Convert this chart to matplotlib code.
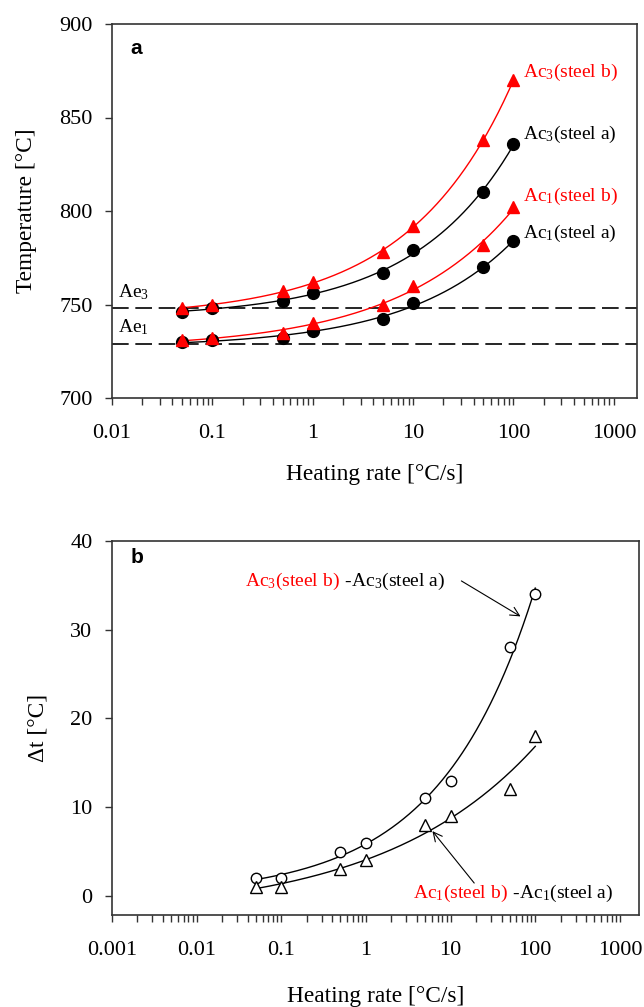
import numpy as np
import matplotlib
matplotlib.use("Agg")
import matplotlib.pyplot as plt

plt.rcParams['font.family'] = ['Liberation Serif', 'DejaVu Serif']
plt.rcParams['mathtext.default'] = 'regular'

# ---------------- data ----------------
rates = [0.05, 0.1, 0.5, 1, 5, 10, 50, 100]
ac3_steel_a = [746, 748, 752, 756, 767, 779, 810, 836]
ac3_steel_b = [748, 750, 757, 762, 778, 792, 838, 870]
ac1_steel_a = [730, 731, 732, 736, 742, 751, 770, 784]
ac1_steel_b = [731, 732, 735, 740, 750, 760, 782, 802]
ae3 = 748
ae1 = 729

dt_ac3 = [2, 2, 5, 6, 11, 13, 28, 34]
dt_ac1 = [1, 1, 3, 4, 8, 9, 12, 18]

ticks_a = [0.01, 0.1, 1, 10, 100, 1000]
ticklabels_a = ['0.01', '0.1', '1', '10', '100', '1000']
ticks_b = [0.001, 0.01, 0.1, 1, 10, 100, 1000]
ticklabels_b = ['0.001', '0.01', '0.1', '1', '10', '100', '1000']


def powfit(x, y):
    """least-squares fit y = a + b*x**c (grid search on c)"""
    x = np.asarray(x, float)
    y = np.asarray(y, float)
    best = None
    for c in np.linspace(0.02, 1.5, 1481):
        A = np.column_stack([np.ones_like(x), x ** c])
        coef, *_ = np.linalg.lstsq(A, y, rcond=None)
        sse = np.sum((A @ coef - y) ** 2)
        if best is None or sse < best[0]:
            best = (sse, coef[0], coef[1], c)
    _, a, b, c = best
    return lambda t: a + b * np.asarray(t) ** c


xs = np.logspace(np.log10(rates[0]), np.log10(rates[-1]), 300)

W, H = 644, 1007
fig = plt.figure(figsize=(W / 100, H / 100), dpi=100)
ax1 = fig.add_axes([112 / W, 1 - 398 / H, 525 / W, 374 / H])
ax2 = fig.add_axes([112 / W, 1 - 915 / H, 527 / W, 374 / H])

FS = 16
LS = 16.8
TS = 14

# ---------------- panel a ----------------
for ys, col, mk, ms in [(ac3_steel_a, 'black', 'o', 8.5),
                        (ac1_steel_a, 'black', 'o', 8.5),
                        (ac3_steel_b, 'red', '^', 8.5),
                        (ac1_steel_b, 'red', '^', 8.5)]:
    f = powfit(rates, ys)
    ax1.plot(xs, f(xs), color=col, lw=1.0, zorder=2)
    ax1.plot(rates, ys, ls='none', marker=mk, color=col, ms=ms, zorder=3)

ax1.axhline(ae3, color='black', lw=1.2, ls=(0, (10, 4)), zorder=1)
ax1.axhline(ae1, color='black', lw=1.2, ls=(0, (10, 4)), zorder=1)

ax1.set_xscale('log')
ax1.set_xlim(0.01, 1700)
ax1.set_ylim(700, 900)
ax1.set_yticks([700, 750, 800, 850, 900])
ax1.set_xticks(ticks_a)
ax1.set_xticklabels(ticklabels_a)
ax1.set_xlabel('Heating rate [°C/s]', fontsize=LS, labelpad=15)
ax1.set_ylabel('Temperature [°C]', fontsize=LS, labelpad=16)

lab_x = 125
ax1.text(lab_x, 874, 'Ac$_3$(steel b)', color='red', fontsize=TS, va='center', ha='left')
ax1.text(lab_x, 841, 'Ac$_3$(steel a)', color='black', fontsize=TS, va='center', ha='left')
ax1.text(lab_x, 808, 'Ac$_1$(steel b)', color='red', fontsize=TS, va='center', ha='left')
ax1.text(lab_x, 788, 'Ac$_1$(steel a)', color='black', fontsize=TS, va='center', ha='left')
ax1.text(0.0115, 751.5, 'Ae$_3$', fontsize=TS, va='bottom', ha='left')
ax1.text(0.0115, 732.5, 'Ae$_1$', fontsize=TS, va='bottom', ha='left')
ax1.text(0.035, 0.935, 'a', transform=ax1.transAxes, fontsize=15, fontweight='bold',
         family='Liberation Sans', va='center', ha='left')

# ---------------- panel b ----------------
f3 = powfit(rates, dt_ac3)
f1 = powfit(rates, dt_ac1)
ax2.plot(xs, f3(xs), color='black', lw=1.0)
ax2.plot(xs, f1(xs), color='black', lw=1.0)
ax2.plot(rates, dt_ac3, ls='none', marker='o', mfc='white', mec='black', mew=1.0, ms=7.5)
ax2.plot(rates, dt_ac1, ls='none', marker='^', mfc='white', mec='black', mew=1.0, ms=8)

ax2.set_xscale('log')
ax2.set_xlim(0.001, 1680)
ax2.set_ylim(-2.15, 40)
ax2.set_yticks([0, 10, 20, 30, 40])
ax2.set_xticks(ticks_b)
ax2.set_xticklabels(ticklabels_b)
ax2.set_xlabel('Heating rate [°C/s]', fontsize=LS, labelpad=19)
ax2.set_ylabel('Δt [°C]', fontsize=LS, labelpad=16)
ax2.text(0.035, 0.955, 'b', transform=ax2.transAxes, fontsize=15, fontweight='bold',
         family='Liberation Sans', va='center', ha='left')

t3 = ax2.text(0.037, 35.4, 'Ac$_3$(steel b)', color='red', fontsize=TS, va='center', ha='left')
ax2.annotate(' -Ac$_3$(steel a)', xy=(1, 0), xycoords=t3, va='bottom', ha='left',
             fontsize=TS, color='black')
t1 = ax2.text(3.6, 0.3, 'Ac$_1$(steel b)', color='red', fontsize=TS, va='center', ha='left')
ax2.annotate(' -Ac$_1$(steel a)', xy=(1, 0), xycoords=t1, va='bottom', ha='left',
             fontsize=TS, color='black')

arrow = dict(arrowstyle='->', color='black', lw=0.8, mutation_scale=16, shrinkA=0, shrinkB=0)
ax2.annotate('', xy=(67, 31.5), xytext=(13.4, 35.5), arrowprops=arrow)
ax2.annotate('', xy=(6.1, 7.3), xytext=(19, 1.45), arrowprops=arrow)

for ax in (ax1, ax2):
    ax.tick_params(axis='both', which='major', labelsize=FS, direction='out', length=5,
                   width=1.0, color='#333333')
    ax.tick_params(axis='y', which='major', pad=9)
    ax.tick_params(axis='x', which='major', pad=13.5)
    ax.tick_params(axis='x', which='minor', direction='out', length=5, width=1.0,
                   color='#333333')
    for s in ax.spines.values():
        s.set_linewidth(1.2)
        s.set_color('#333333')

fig.savefig('out.png', dpi=100)
